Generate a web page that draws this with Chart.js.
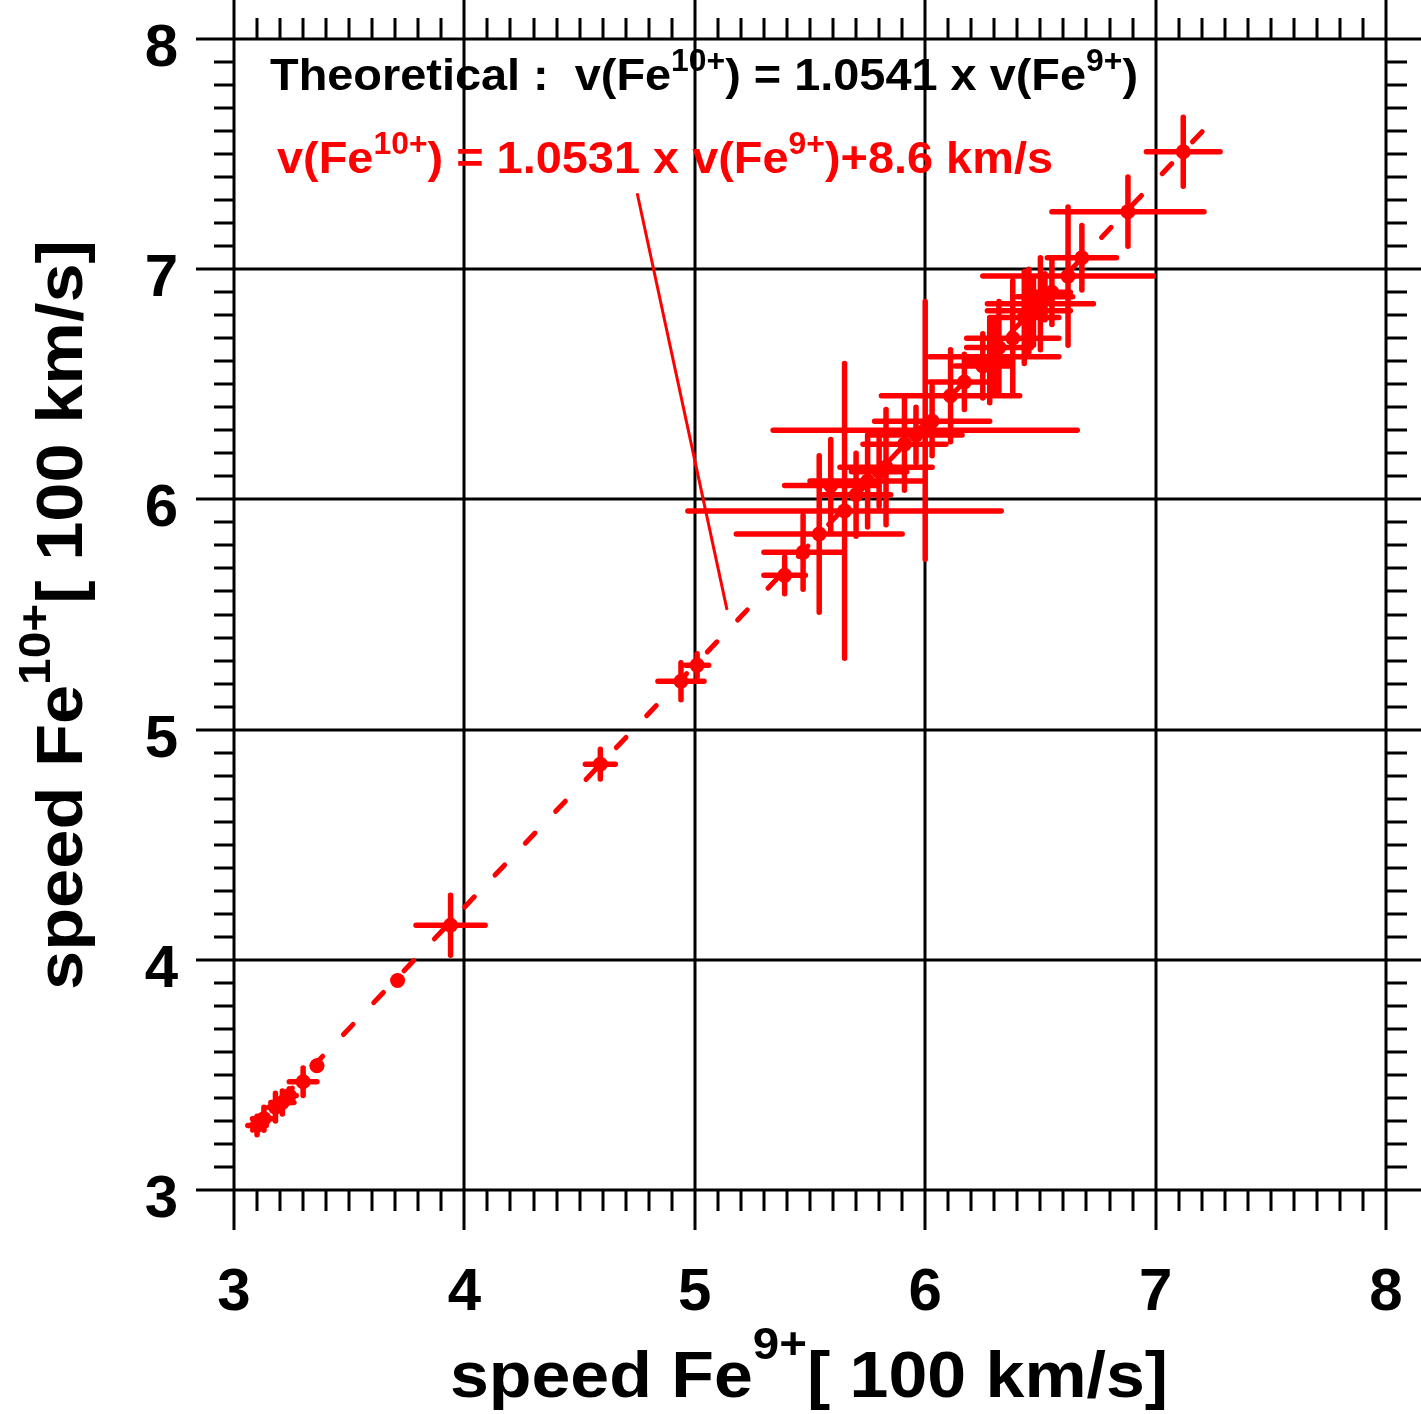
<!DOCTYPE html>
<html>
<head>
<meta charset="utf-8">
<script src="https://cdn.jsdelivr.net/npm/chart.js@4.4.1/dist/chart.umd.min.js"></script>
<style>
  html, body { margin: 0; padding: 0; background: #fff; }
  #wrap { width: 1421px; height: 1414px; }
</style>
</head>
<body>
<div id="wrap"><canvas id="feChart" width="1421" height="1414"></canvas></div>
<script>
// axis ticks
const xTicks = [3, 4, 5, 6, 7, 8];
const yTicks = [3, 4, 5, 6, 7, 8];

// speeds in 100 km/s
const fe9  = [3.10, 3.13, 3.18, 3.21, 3.24, 3.30, 3.36, 3.71, 3.94, 4.59, 4.94, 5.01,
              5.39, 5.47, 5.54, 5.59, 5.65, 5.70, 5.75, 5.80, 5.83, 5.91, 5.96, 6.00,
              6.03, 6.11, 6.17, 6.25, 6.30, 6.32, 6.38, 6.43, 6.47, 6.50, 6.52, 6.55,
              6.62, 6.68, 6.88, 7.12, 6.28, 6.45];
const fe10 = [3.28, 3.31, 3.36, 3.38, 3.41, 3.47, 3.54, 3.91, 4.15, 4.85, 5.21, 5.28,
              5.67, 5.77, 5.85, 6.06, 5.95, 6.02, 6.08, 6.12, 6.14, 6.24, 6.28, 6.30,
              6.34, 6.45, 6.51, 6.58, 6.62, 6.66, 6.70, 6.79, 6.82, 6.85, 6.88, 6.90,
              6.97, 7.05, 7.25, 7.51, 6.60, 6.82];
const fe9Err  = [0.04, 0.05, 0.03, 0.05, 0.03, 0.06, 0.02, 0, 0.15, 0.065, 0.10, 0.05,
                 0.09, 0.17, 0.36, 0.20, 0.68, 0.15, 0.25, 0.12, 0.20, 0.18, 0.20, 0.66,
                 0.25, 0.30, 0.15, 0.12, 0.28, 0.14, 0.20, 0.15, 0.10, 0.23, 0.12, 0.08,
                 0.37, 0.15, 0.33, 0.16, 0.10, 0.18];
const fe10Err = [0.04, 0.05, 0.06, 0.05, 0.03, 0.06, 0.02, 0, 0.13, 0.065, 0.08, 0.05,
                 0.08, 0.16, 0.34, 0.20, 0.64, 0.18, 0.20, 0.15, 0.25, 0.20, 0.12, 0.56,
                 0.15, 0.20, 0.12, 0.14, 0.15, 0.20, 0.25, 0.20, 0.15, 0.20, 0.10, 0.14,
                 0.30, 0.14, 0.15, 0.15, 0.18, 0.18];

// fitted line and the pointer from the label to it
const fitX = [3.08, 7.29];
const fitY = [3.26, 7.69];
const leaderX = [4.75, 5.14];
const leaderY = [7.33, 5.52];

const RED = '#ff0000';
const FONT = '"Liberation Sans", Arial, sans-serif';

function toPoints(xs, ys) {
    return xs.map((x, i) => ({ x: x, y: ys[i] }));
}

// text with superscripts, squeezed to a given width
function drawRich(ctx, parts, size, color, width, supScale, supRaise) {
    let total = 0;
    parts.forEach(p => {
        ctx.font = 'bold ' + (p[1] ? size * supScale : size) + 'px ' + FONT;
        total += ctx.measureText(p[0]).width;
    });
    ctx.save();
    ctx.scale(width / total, 1);
    ctx.fillStyle = color;
    ctx.textAlign = 'left';
    ctx.textBaseline = 'alphabetic';
    let x = 0;
    parts.forEach(p => {
        ctx.font = 'bold ' + (p[1] ? size * supScale : size) + 'px ' + FONT;
        ctx.fillText(p[0], x, p[1] ? -size * supRaise : 0);
        x += ctx.measureText(p[0]).width;
    });
    ctx.restore();
}

const framePlugin = {
    id: 'frame',
    beforeDatasetsDraw(chart) {
        const ctx = chart.ctx;
        const xs = chart.scales.x, ys = chart.scales.y;
        const a = chart.chartArea;
        ctx.save();
        ctx.strokeStyle = '#000';
        ctx.lineWidth = 3;
        ctx.lineCap = 'butt';
        // minor ticks
        ctx.beginPath();
        for (let i = 31; i < 80; i++) {
            if (i % 10 === 0) continue;
            const v = i / 10;
            const px = Math.round(xs.getPixelForValue(v));
            ctx.moveTo(px, a.top); ctx.lineTo(px, a.top - 21);
            ctx.moveTo(px, a.bottom); ctx.lineTo(px, a.bottom + 21);
            const py = Math.round(ys.getPixelForValue(v));
            ctx.moveTo(a.left, py); ctx.lineTo(a.left - 20, py);
            ctx.moveTo(a.right, py); ctx.lineTo(a.right + 21, py);
        }
        ctx.stroke();
        // major grid lines running past the frame
        ctx.beginPath();
        xTicks.forEach(v => {
            const px = Math.round(xs.getPixelForValue(v));
            ctx.moveTo(px, a.top - 40); ctx.lineTo(px, a.bottom + 40);
        });
        yTicks.forEach(v => {
            const py = Math.round(ys.getPixelForValue(v));
            ctx.moveTo(a.left - 38, py); ctx.lineTo(a.right + 36, py);
        });
        ctx.stroke();

        // tick labels
        ctx.fillStyle = '#000';
        ctx.font = 'bold 60px ' + FONT;
        ctx.textAlign = 'center';
        ctx.textBaseline = 'alphabetic';
        xTicks.forEach(v => {
            ctx.fillText(String(v), xs.getPixelForValue(v), a.bottom + 120);
        });
        ctx.textAlign = 'right';
        yTicks.forEach(v => {
            ctx.fillText(String(v), a.left - 56, ys.getPixelForValue(v) + 27);
        });

        // error bars
        ctx.strokeStyle = RED;
        ctx.lineWidth = 5.5;
        ctx.lineCap = 'round';
        ctx.beginPath();
        fe9.forEach((x, i) => {
            const y = fe10[i];
            if (fe9Err[i] > 0) {
                ctx.moveTo(xs.getPixelForValue(x - fe9Err[i]), ys.getPixelForValue(y));
                ctx.lineTo(xs.getPixelForValue(x + fe9Err[i]), ys.getPixelForValue(y));
            }
            if (fe10Err[i] > 0) {
                ctx.moveTo(xs.getPixelForValue(x), ys.getPixelForValue(y - fe10Err[i]));
                ctx.lineTo(xs.getPixelForValue(x), ys.getPixelForValue(y + fe10Err[i]));
            }
        });
        ctx.stroke();
        ctx.restore();
    },
    afterDraw(chart) {
        const ctx = chart.ctx;
        // formulas
        ctx.save();
        ctx.translate(270, 90);
        drawRich(ctx, [['Theoretical :  v(Fe', 0], ['10+', 1], [') = 1.0541 x v(Fe', 0], ['9+', 1], [')', 0]],
                 45, '#000', 868, 0.68, 0.42);
        ctx.restore();
        ctx.save();
        ctx.translate(277, 173);
        drawRich(ctx, [['v(Fe', 0], ['10+', 1], [') = 1.0531 x v(Fe', 0], ['9+', 1], [')+8.6 km/s', 0]],
                 45, RED, 776, 0.68, 0.42);
        ctx.restore();
        // axis titles
        ctx.save();
        ctx.translate(450, 1397);
        drawRich(ctx, [['speed Fe', 0], ['9+', 1], ['[ 100 km/s]', 0]], 64, '#000', 718, 0.68, 0.6);
        ctx.restore();
        ctx.save();
        ctx.translate(82, 990);
        ctx.rotate(-Math.PI / 2);
        drawRich(ctx, [['speed Fe', 0], ['10+', 1], ['[ 100 km/s]', 0]], 64, '#000', 750, 0.68, 0.5);
        ctx.restore();
    }
};

const ctx = document.getElementById('feChart').getContext('2d');
const feChart = new Chart(ctx, {
    type: 'scatter',
    data: {
        datasets: [
            {
                type: 'line',
                data: toPoints(fitX, fitY),
                borderColor: RED,
                borderWidth: 5,
                borderDash: [14, 30],
                borderCapStyle: 'round',
                pointRadius: 0
            },
            {
                type: 'line',
                data: toPoints(leaderX, leaderY),
                borderColor: RED,
                borderWidth: 3,
                pointRadius: 0
            },
            {
                data: toPoints(fe9, fe10),
                backgroundColor: RED,
                borderWidth: 0,
                pointRadius: 7.5
            }
        ]
    },
    options: {
        responsive: false,
        animation: false,
        layout: { padding: { left: 234, top: 39, right: 35, bottom: 224 } },
        scales: {
            x: { type: 'linear', min: 3, max: 8, display: false },
            y: { type: 'linear', min: 3, max: 8, display: false }
        },
        plugins: {
            legend: { display: false },
            tooltip: { enabled: false }
        }
    },
    plugins: [framePlugin]
});
</script>
</body>
</html>
